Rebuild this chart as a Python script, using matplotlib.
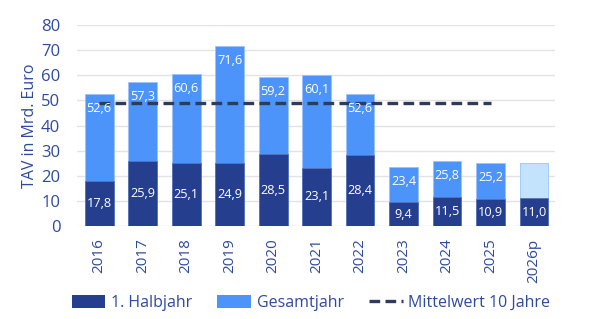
import matplotlib
matplotlib.use("Agg")
import matplotlib.pyplot as plt
from matplotlib.lines import Line2D
from matplotlib.patches import Patch

years = ["2016", "2017", "2018", "2019", "2020", "2021", "2022", "2023", "2024", "2025", "2026p"]
first_half = [17.8, 25.9, 25.1, 24.9, 28.5, 23.1, 28.4, 9.4, 11.5, 10.9, 11.0]
full_year = [52.6, 57.3, 60.6, 71.6, 59.2, 60.1, 52.6, 23.4, 25.8, 25.2, 25.0]
full_labels = ["52,6", "57,3", "60,6", "71,6", "59,2", "60,1", "52,6", "23,4", "25,8", "25,2", ""]
half_labels = ["17,8", "25,9", "25,1", "24,9", "28,5", "23,1", "28,4", "9,4", "11,5", "10,9", "11,0"]
mean_10y = sum(full_year[:10]) / 10

DARK = "#253f8e"
LIGHT = "#4c93fa"
PALE = "#c3e2fc"
NAVY = "#2f3b5c"
TXT = "#2e4a9e"

plt.rcParams['font.family'] = ['Open Sans', 'DejaVu Sans']

fig = plt.figure(figsize=(5.89, 3.19), dpi=100)
ax = fig.add_axes([77/589, 1 - 226/319, (555-77)/589, (226-25)/319])

x = list(range(len(years)))
w = 0.66
full_colors = [LIGHT] * 10 + [PALE]
ax.bar(x, full_year, width=w, color=full_colors, edgecolor="#9cc3ff", linewidth=0.6, zorder=2)
ax.bar(x, first_half, width=w, color=DARK, edgecolor="#5a73b8", linewidth=0.6, zorder=3)

ax.plot([0, 9], [mean_10y, mean_10y], color=NAVY, linestyle=(0, (3.2, 1.6)), linewidth=2.4, zorder=4)

for i in x:
    if full_labels[i]:
        ax.text(i, full_year[i] - 5.8, full_labels[i], ha="center", va="center", color="white", fontsize=9.2, zorder=5)
    ax.text(i, first_half[i] / 2, half_labels[i], ha="center", va="center", color="white", fontsize=9.2, zorder=5)

ax.set_xlim(-0.51, 10.48)
ax.set_ylim(0, 80)
ax.set_yticks(range(0, 81, 10))
ax.set_xticks(x)
ax.set_xticklabels(years, rotation=90, color=TXT, fontsize=11)
ax.tick_params(axis="y", colors=TXT, labelsize=12, length=0, pad=12)
ax.tick_params(axis="x", length=0, pad=9)
ax.grid(axis="y", color="#e3e3e3", linewidth=1, zorder=0)
ax.set_axisbelow(True)
for s in ax.spines.values():
    s.set_visible(False)
ax.set_ylabel("TAV in Mrd. Euro", color=TXT, fontsize=11.5, labelpad=2)

handles = [Patch(facecolor=DARK, label="1. Halbjahr"),
           Patch(facecolor=LIGHT, label="Gesamtjahr"),
           Line2D([0], [0], color=NAVY, linestyle=(0, (3.2, 1.6)), linewidth=2.4, label="Mittelwert 10 Jahre")]
leg = fig.legend(handles=handles, loc="center", bbox_to_anchor=(311/589, 1 - 303/319), ncol=3,
                 frameon=False, fontsize=11.5, handlelength=2.1, handleheight=0.8, columnspacing=1.6,
                 handletextpad=0.35)
for t in leg.get_texts():
    t.set_color(TXT)

fig.savefig("out.png", dpi=100)
